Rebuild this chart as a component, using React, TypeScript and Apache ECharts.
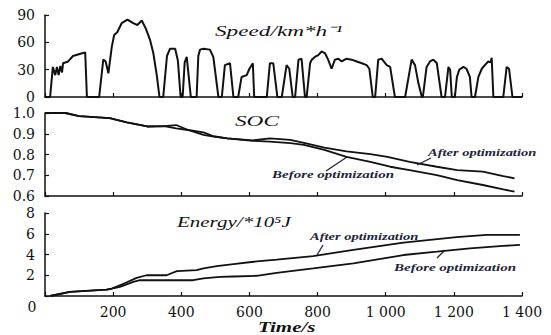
import React, { useEffect, useRef } from "react";
import * as echarts from "echarts";

// Speed (km/h) vs time (s)
const speedData: [number, number][] = [
  [0, 0], [15, 0], [23, 33], [30, 24], [35, 33], [40, 24], [45, 34], [50, 27], [53, 37], [68, 39], [82, 45], [109, 48], [118, 49], [123, 0],
  [159, 0], [171, 41], [178, 39], [186, 26], [196, 55], [203, 68], [212, 71], [225, 81], [242, 85], [259, 81], [271, 79], [284, 84], [296, 75], [308, 63], [318, 48], [328, 24], [336, 0],
  [347, 0], [358, 45], [367, 53], [382, 53], [390, 40], [398, 0],
  [404, 0], [410, 38], [416, 44], [428, 0],
  [445, 0], [450, 45], [455, 52], [465, 53], [484, 52], [494, 44], [509, 0],
  [519, 0], [528, 35], [543, 37], [553, 0],
  [567, 0], [577, 22], [592, 24], [600, 31], [610, 37], [614, 0],
  [651, 0], [660, 37], [670, 37], [682, 0],
  [695, 0], [709, 35], [717, 31], [727, 0],
  [734, 0], [744, 41], [753, 42], [763, 0],
  [768, 0], [778, 37], [783, 41], [792, 44], [802, 46], [812, 50], [822, 48], [831, 41], [841, 31], [851, 41], [861, 42], [871, 39], [885, 42], [900, 41], [915, 39], [930, 37], [944, 35], [952, 31], [962, 0],
  [969, 0], [978, 41], [988, 42], [1003, 35], [1013, 33], [1027, 0],
  [1057, 0], [1076, 41], [1086, 35], [1096, 15], [1106, 0],
  [1109, 0], [1120, 33], [1130, 39], [1140, 41], [1150, 37], [1164, 0],
  [1174, 0], [1184, 33], [1189, 30], [1194, 0],
  [1203, 0], [1209, 22], [1216, 30], [1228, 33], [1237, 31], [1247, 22], [1252, 0],
  [1262, 0], [1272, 22], [1282, 31], [1291, 35], [1301, 39], [1308, 38], [1311, 43], [1316, 0],
  [1345, 0], [1355, 33], [1362, 31], [1372, 0], [1400, 0],
];

// State of charge
const socAfter: [number, number][] = [
  [0, 1.0], [60, 1.0], [100, 0.985], [190, 0.975], [240, 0.955], [300, 0.935], [350, 0.937], [385, 0.942], [420, 0.918], [465, 0.907], [495, 0.888],
  [535, 0.878], [610, 0.868], [660, 0.878], [720, 0.870], [760, 0.856], [820, 0.833], [885, 0.815], [955, 0.802], [1005, 0.789], [1070, 0.765],
  [1150, 0.741], [1210, 0.725], [1285, 0.717], [1345, 0.696], [1378, 0.685],
];
const socBefore: [number, number][] = [
  [0, 1.0], [60, 1.0], [100, 0.985], [190, 0.975], [240, 0.955], [300, 0.935], [350, 0.937], [385, 0.926], [420, 0.918], [465, 0.895], [495, 0.886],
  [535, 0.878], [610, 0.866], [660, 0.862], [720, 0.855], [760, 0.846], [820, 0.822], [885, 0.789], [955, 0.765], [1013, 0.741], [1070, 0.725],
  [1150, 0.701], [1210, 0.677], [1285, 0.653], [1345, 0.632], [1378, 0.621],
];

// Energy (×10^5 J)
const energyAfter: [number, number][] = [
  [15, 0], [73, 0.39], [181, 0.62], [196, 0.72], [232, 1.2], [269, 1.75], [298, 2.0], [357, 2.0], [387, 2.4], [445, 2.5], [465, 2.66], [504, 2.88],
  [553, 3.08], [612, 3.3], [680, 3.5], [787, 3.85], [905, 4.44], [1052, 5.15], [1208, 5.67], [1296, 5.89], [1394, 5.9],
];
const energyBefore: [number, number][] = [
  [15, 0], [73, 0.39], [181, 0.62], [196, 0.7], [220, 0.88], [259, 1.36], [279, 1.52], [435, 1.52], [465, 1.69], [514, 1.84], [553, 1.88],
  [621, 1.95], [680, 2.23], [787, 2.66], [905, 3.15], [1052, 3.95], [1150, 4.27], [1247, 4.6], [1345, 4.83], [1394, 4.92],
];

const titles = ["Speed/km*h\u207B\u00B9", "SOC", "Energy/*10\u2075J"];
const xName = "Time/s";
const afterLabel = "After optimization";
const beforeLabel = "Before optimization";

const AXIS_FONT = '"DejaVu Serif", serif';
const SERIF = '"Liberation Serif", serif';
const INK = "#111";
const NOTE = "#23233a";

export default function App() {
  const ref = useRef<HTMLDivElement>(null);
  useEffect(() => {
    const chart = echarts.init(ref.current!, null, { renderer: "svg" });
    const axisLine = { lineStyle: { color: INK, width: 1.5 } };
    const tick = { inside: true, length: 4, lineStyle: { color: INK, width: 1.2 } };
    const labelStyle = { color: INK, fontFamily: AXIS_FONT, fontSize: 14, lineHeight: 12, margin: 10 };
    const xBase = (gi: number, show: boolean) => ({
      type: "value", gridIndex: gi, min: 0, max: 1400, interval: 200,
      axisLine: { ...axisLine, onZero: false }, axisTick: tick, splitLine: { show: false },
      axisLabel: show
        ? {
            ...labelStyle, margin: 10,
            formatter: (v: number) => (v === 0 ? "" : v >= 1000 ? `${Math.floor(v / 1000)} ${String(v % 1000).padStart(3, "0")}` : String(v)),
          }
        : { show: false },
    });
    const line = (data: [number, number][], gi: number, w = 2) => ({
      type: "line", xAxisIndex: gi, yAxisIndex: gi, data, showSymbol: false, symbol: "none",
      lineStyle: { color: INK, width: w }, silent: true,
    });
    const text = (t: string, x: number, y: number, font: string, sx: number, fill = INK, align = "left") => ({
      type: "text", x, y, scaleX: sx, silent: true,
      style: { text: t, font, fill, textAlign: align, textVerticalAlign: "middle" },
    });
    const seg = (x1: number, y1: number, x2: number, y2: number) => ({
      type: "line", silent: true, shape: { x1, y1, x2, y2 }, style: { stroke: NOTE, lineWidth: 1.3 },
    });
    chart.setOption({
      animation: false,
      backgroundColor: "#fff",
      grid: [
        { left: 45, right: 29, top: 15, height: 82 },
        { left: 45, right: 29, top: 113, height: 83 },
        { left: 45, right: 29, top: 213, height: 83 },
      ],
      xAxis: [xBase(0, false), xBase(1, false), xBase(2, true)],
      yAxis: [
        { type: "value", gridIndex: 0, min: 0, max: 90, interval: 30, axisLine, axisTick: tick, splitLine: { show: false }, axisLabel: labelStyle },
        {
          type: "value", gridIndex: 1, min: 0.6, max: 1.0, interval: 0.1, axisLine, axisTick: tick, splitLine: { show: false },
          axisLabel: { ...labelStyle, formatter: (v: number) => v.toFixed(1) },
        },
        {
          type: "value", gridIndex: 2, min: 0, max: 8, interval: 2, axisLine, axisTick: tick, splitLine: { show: false },
          axisLabel: { ...labelStyle, formatter: (v: number) => (v === 0 ? "" : String(v)) },
        },
      ],
      series: [
        line(speedData, 0, 2),
        line(socAfter, 1, 1.8),
        line(socBefore, 1, 1.8),
        line(energyAfter, 2, 1.8),
        line(energyBefore, 2, 1.8),
      ],
      graphic: [
        text(titles[0], 215, 31, `italic 15px ${SERIF}`, 1.55),
        text(titles[1], 235, 121, `italic 15px ${SERIF}`, 1.55),
        text(titles[2], 177, 222, `italic 15px ${SERIF}`, 1.4),
        text(xName, 258, 327, `italic bold 15px ${SERIF}`, 1.4),
        text("0", 32, 307, `14px ${AXIS_FONT}`, 1, INK, "center"),
        text(afterLabel, 428, 153, `italic bold 10px ${SERIF}`, 1.45, NOTE),
        text(beforeLabel, 272, 175, `italic bold 10px ${SERIF}`, 1.5, NOTE),
        text(afterLabel, 310, 237, `italic bold 10px ${SERIF}`, 1.45, NOTE),
        text(beforeLabel, 394, 268, `italic bold 10px ${SERIF}`, 1.5, NOTE),
        seg(431, 158, 417, 165),
        seg(326, 171, 347, 157),
        seg(323, 245, 317, 255),
        seg(437, 258, 445, 250),
      ],
    });
    return () => chart.dispose();
  }, []);
  return <div ref={ref} style={{ width: 551, height: 335, position: "absolute", left: 0, top: 0 }} />;
}
